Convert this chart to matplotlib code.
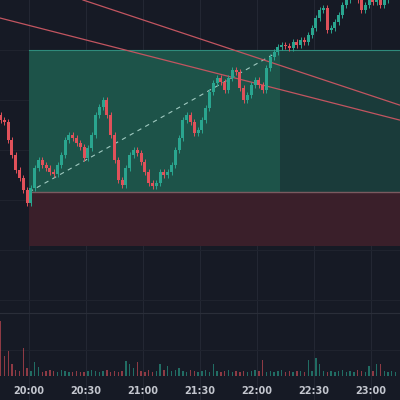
import matplotlib
matplotlib.use("Agg")
import matplotlib.pyplot as plt
from matplotlib.patches import Rectangle

# minutes after 20:00, one candle every 2 minutes starting 19:45
start_min = -15
step = 2
closes = [280,278,260,245,230,222,210,197,212,232,240,235,232,228,226,235,245,260,265,262,
          257,253,242,252,265,285,293,300,285,265,240,220,215,232,245,250,247,238,228,217,
          214,217,228,225,228,235,250,262,280,285,278,267,270,280,292,308,317,322,318,310,
          322,330,328,312,300,305,315,320,315,310,332,343,348,353,355,354,352,358,355,360,
          358,365,372,382,390,392,370,372,378,385,395,400,405,408,400,390,395,400,398,403,
          395,400,405,410,410]
first_open = 285
volumes = [55,20,25,12,6,5,28,8,5,14,9,4,5,6,5,4,6,5,4,4,
           5,4,4,5,6,5,4,5,6,4,5,4,5,15,12,8,14,5,4,6,
           4,5,12,6,10,5,6,8,5,4,6,5,4,5,6,4,12,5,4,5,
           6,4,5,4,5,4,5,6,5,16,4,5,4,5,6,4,5,4,5,5,
           4,16,5,18,12,5,4,5,4,5,6,4,5,4,6,5,4,10,5,12,
           12,5,4,5,4]
green_zone = (208, 350)
red_zone = (154, 208)
zone_start = 0          # 20:00
zone_split = 132        # 22:12
dash_line = ((0, 208), (128, 345))
red_line_a = ((-15.3, 382), (195, 280))
red_line_b = ((28.4, 400), (195, 295))
tick_labels = ["20:00", "20:30", "21:00", "21:30", "22:00", "22:30", "23:00"]
tick_mins = [0, 30, 60, 90, 120, 150, 180]

BG = "#161a25"
UP = "#2aa58f"
DN = "#e0515a"

fig = plt.figure(figsize=(4, 4), dpi=100, facecolor=BG)
ax = fig.add_axes([0, 0, 1, 1], facecolor=BG)
xmin, xmax = -15.3, 195.3
ax.set_xlim(xmin, xmax)
ax.set_ylim(0, 400)
ax.axis("off")

for m in tick_mins:
    ax.axvline(m, color="#232733", lw=0.8, zorder=0)
for p in [50, 100, 150, 200, 250, 300, 350]:
    ax.axhline(p, color="#1f232e", lw=0.8, zorder=0)
ax.axhline(87, color="#2a2e39", lw=0.8, zorder=0)

# zones
ax.add_patch(Rectangle((zone_start, green_zone[0]), zone_split - zone_start, green_zone[1] - green_zone[0],
                       color="#1d5349", zorder=1, lw=0))
ax.add_patch(Rectangle((zone_split, green_zone[0]), xmax - zone_split, green_zone[1] - green_zone[0],
                       color="#1a3b3a", zorder=1, lw=0))
ax.add_patch(Rectangle((zone_start, red_zone[0]), xmax - zone_start, red_zone[1] - red_zone[0],
                       color="#3a1f2a", zorder=1, lw=0))
ax.plot([zone_start, xmax], [green_zone[1]] * 2, color="#2f8b7c", lw=0.8, zorder=1)
ax.plot([zone_start, xmax], [red_zone[1]] * 2, color="#7a5a60", lw=1.0, zorder=1)

ax.plot(*zip(*dash_line), color="#9fc9c0", lw=0.8, ls=(0, (4, 4)), zorder=2)
ax.plot(*zip(*red_line_a), color="#c25560", lw=0.9, zorder=2)
ax.plot(*zip(*red_line_b), color="#c25560", lw=0.9, zorder=2)

opens = [first_open] + closes[:-1]
for i, (o, c) in enumerate(zip(opens, closes)):
    t = start_min + i * step
    col = UP if c >= o else DN
    lo, hi = min(o, c), max(o, c)
    ax.vlines(t, lo - 3, hi + 3, color=col, lw=0.7, zorder=3)
    ax.add_patch(Rectangle((t - 0.8, lo), 1.6, max(hi - lo, 1), color=col, lw=0, zorder=3))

axv = fig.add_axes([0, 24 / 400, 1, 80 / 400], facecolor="none")
axv.set_xlim(xmin, xmax)
axv.set_ylim(0, 80)
axv.axis("off")
for i, v in enumerate(volumes):
    t = start_min + i * step
    col = UP if closes[i] >= opens[i] else DN
    axv.bar(t, v, width=0.7, color=col, alpha=0.6, lw=0)

for m, lab in zip(tick_mins, tick_labels):
    ax.text(m, 9, lab, color="#c3c6ce", fontsize=7, ha="center", va="center", fontweight="semibold")

fig.savefig("out.png", dpi=100, facecolor=BG)
